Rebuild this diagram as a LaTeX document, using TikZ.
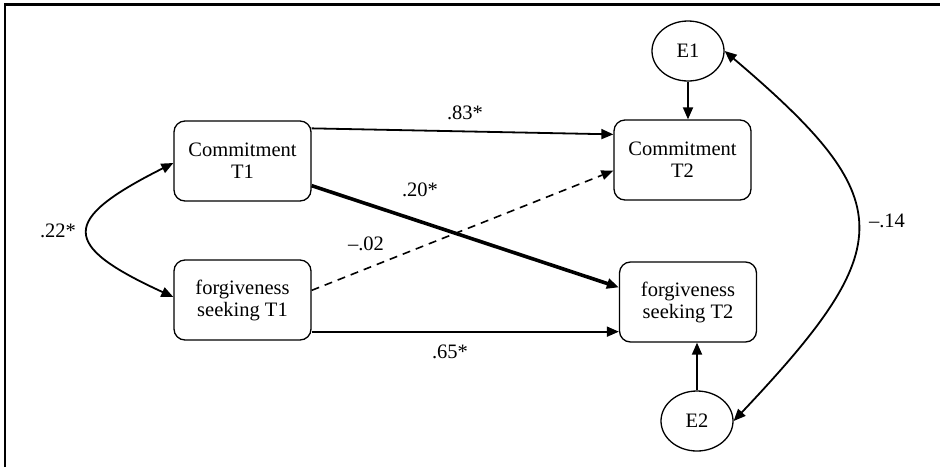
\documentclass[tikz,border=0pt]{standalone}
\usepackage{fontspec}
\setmainfont{Liberation Serif}
\usetikzlibrary{arrows.meta,calc,shapes.geometric}
\begin{document}
\begin{tikzpicture}[x=1pt,y=-1pt,
  font=\fontsize{20.5}{22}\selectfont,
  var/.style={draw,line width=1.3pt,rounded corners=11pt,minimum width=137pt,minimum height=80pt,align=center,inner sep=0pt},
  err/.style={draw,line width=1.3pt,ellipse,minimum width=72pt,minimum height=60pt,inner sep=0pt},
  path/.style={line width=1.8pt,-{Triangle[length=12pt,width=10pt]}},
  thickpath/.style={line width=3.6pt,-{Triangle[length=12pt,width=10pt]}},
  dpath/.style={line width=1.6pt,dash pattern=on 8pt off 6pt,-{Triangle[length=12pt,width=10pt,line width=0pt]}},
  cov/.style={line width=1.8pt,{Triangle[length=12pt,width=10pt]}-{Triangle[length=12pt,width=10pt]}},
  lab/.style={inner sep=1pt}]
\useasboundingbox (0,0) rectangle (940,467);
\fill[white] (0,0) rectangle (940,467);
\draw[line width=2.2pt] (5,467) -- (5,4.5) -- (940,4.5);

\node[var] (c1) at (242.5,161) {Commitment\\T1};
\node[var] (f1) at (242.5,300) {forgiveness\\seeking T1};
\node[var] (c2) at (682.5,160) {Commitment\\T2};
\node[var] (f2) at (688,302) {forgiveness\\seeking T2};
\node[err] (e1) at (688,51) {E1};
\node[err] (e2) at (697,421) {E2};

\draw[path] ([yshift=-8pt]c1.north east) -- ([yshift=-15pt]c2.north west);
\draw[thickpath] ([yshift=16pt]c1.south east) -- ([yshift=-26pt]f2.north west);
\draw[dpath] ([yshift=-31pt]f1.north east) -- ([yshift=30pt]c2.south west);
\draw[path] ([yshift=9pt]f1.south east) -- ([yshift=11pt]f2.south west);
\draw[path] (e1.south) -- (e1.south |- c2.north);
\draw[path] (e2.north) -- (e2.north |- f2.south);

\coordinate (lc1) at ([yshift=-2pt]c1.west);
\coordinate (lf1) at ([yshift=3pt]f1.west);
\draw[cov] (lc1) .. controls (60,220) and (60,245) .. (lf1);
\draw[cov] (e1.east) .. controls (900,200) and (900,245) .. (e2.east);

\node[lab] (l83) at (465,113) {.83*};
\node[lab] (l20) at (420,190) {.20*};
\node[lab] (l02) at (366,244) {–.02};
\node[lab] (l65) at (450,352) {.65*};
\node[lab] (l22) at (58,231) {.22*};
\node[lab] (l14) at (887,221) {–.14};
\end{tikzpicture}
\end{document}
